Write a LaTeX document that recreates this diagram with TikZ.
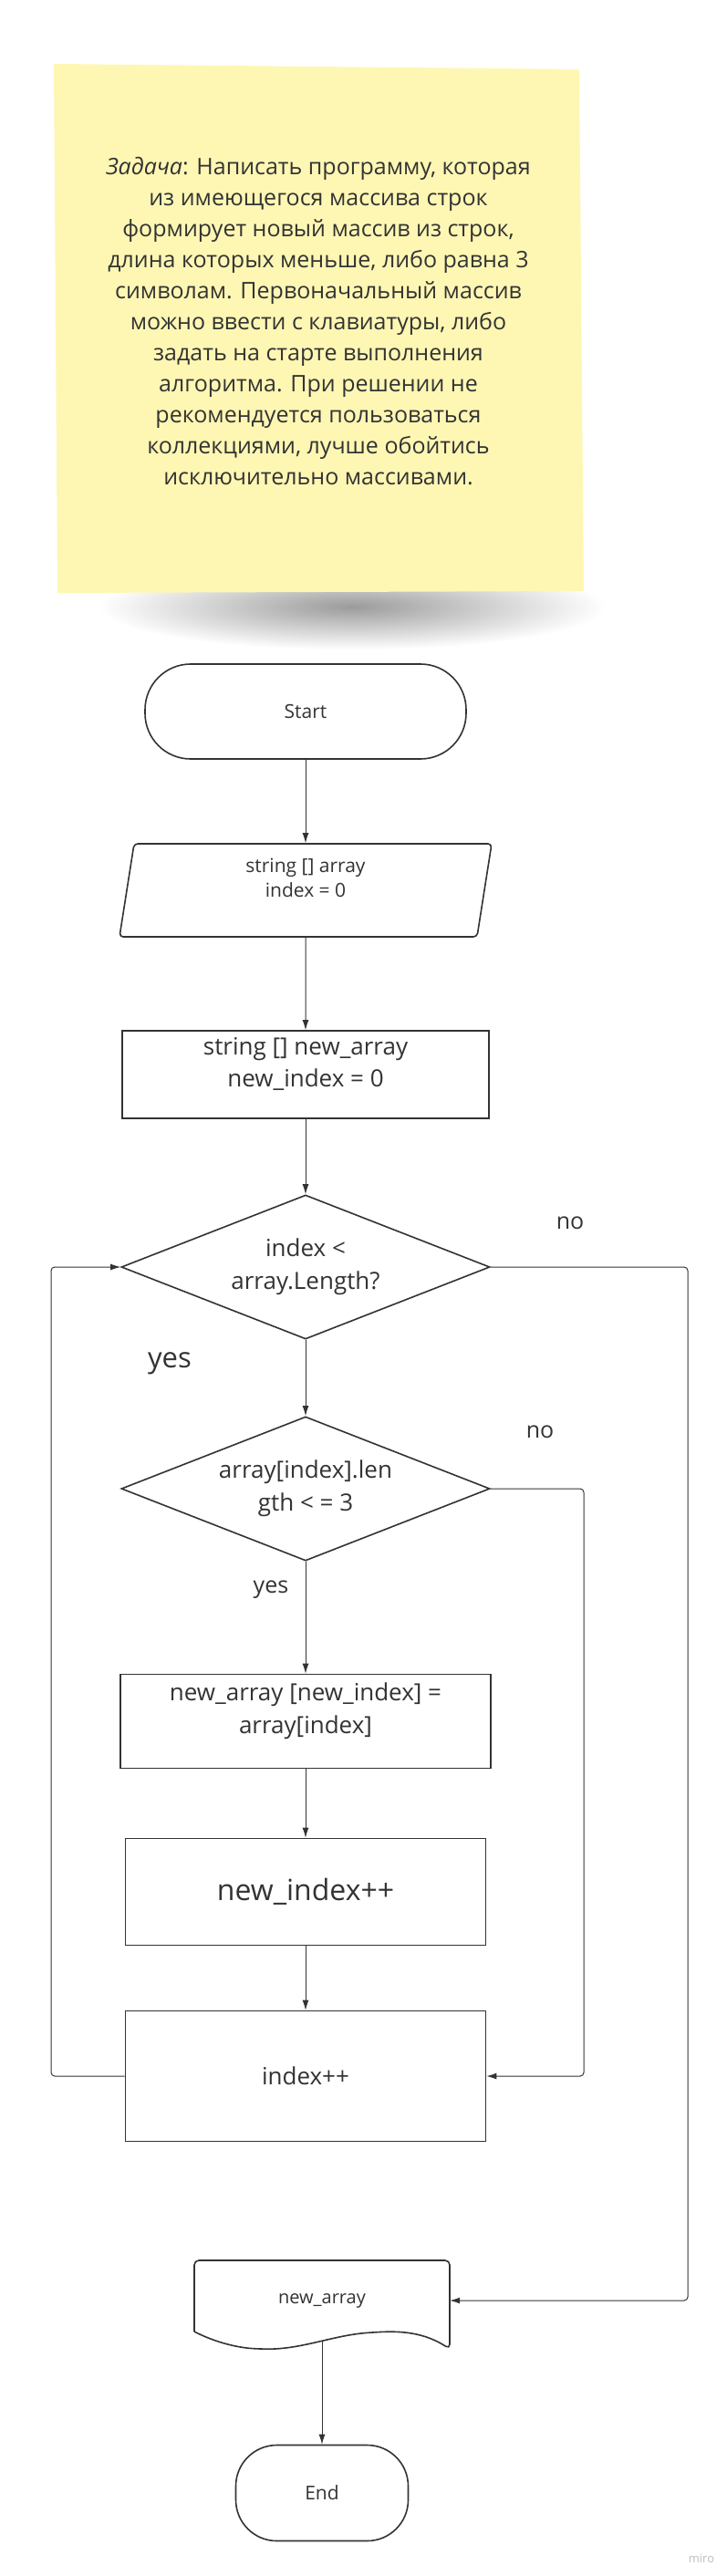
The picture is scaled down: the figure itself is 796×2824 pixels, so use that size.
\documentclass[tikz,border=0pt]{standalone}
\usepackage{fontspec}
\setmainfont{Open Sans}
\usetikzlibrary{shapes.geometric,arrows.meta,fadings}
\newcommand{\fsz}[2]{\fontsize{#1}{#2}\selectfont}
\definecolor{sticky}{HTML}{FEF7B4}
\definecolor{ink}{HTML}{333333}
\tikzfading[name=shfade, inner color=transparent!35, outer color=transparent!100]
\begin{document}
\begin{tikzpicture}[x=1pt,y=-1pt,
  box/.style={draw=ink, line width=1.6pt, text=ink, align=center, inner sep=0pt},
  cond/.style={box, diamond, aspect=2.56, minimum width=404pt, minimum height=158pt, font=\fsz{26}{36}},
  arr/.style={draw=ink, line width=1pt, -{Latex[length=11pt,width=7pt]}},
  lbl/.style={text=ink, inner sep=0pt}]
  \useasboundingbox[fill=white] (0,0) rectangle (796,2824);
  \fill[black!60, path fading=shfade] (110,618) rectangle (662,712);
  \fill[sticky] (59,70) -- (635,76) -- (640,648) -- (63,650) -- cycle;
  \node[lbl, align=center, font=\fsz{25}{34}] (task) at (349,352) {\textit{Задача}: Написать программу, которая\\из имеющегося массива строк\\формирует новый массив из строк,\\длина которых меньше, либо равна 3\\символам. Первоначальный массив\\можно ввести с клавиатуры, либо\\задать на старте выполнения\\алгоритма. При решении не\\рекомендуется пользоваться\\коллекциями, лучше обойтись\\исключительно массивами.};

  \node[box, rounded corners=50pt, minimum width=352pt, minimum height=104pt, font=\fsz{21}{27}] (start) at (335,780) {Start};
  \node[box, trapezium, trapezium left angle=77, trapezium right angle=103, trapezium stretches body, rounded corners=4pt, minimum width=408pt, minimum height=102pt, font=\fsz{21}{27}] (inp) at (335,976) {string [] array\\index = 0\\\mbox{}};
  \node[box, minimum width=402pt, minimum height=96pt, font=\fsz{26}{35}] (init) at (335,1178) {string [] new\_array\\new\_index = 0\\[-8pt]\mbox{}};
  \node[cond] (d1) at (335,1389) {index <\\array.Length?};
  \node[cond] (d2) at (335,1632) {array[index].len\\gth < = 3};
  \node[box, minimum width=406pt, minimum height=103pt, font=\fsz{26}{36}] (copy) at (335,1887) {new\_array [new\_index] =\\array[index]\\[-8pt]\mbox{}};
  \node[box, minimum width=395pt, minimum height=117pt, font=\fsz{32}{40}] (incnew) at (335,2074) {new\_index++};
  \node[box, minimum width=395pt, minimum height=143pt, font=\fsz{26}{34}] (inc) at (335,2276) {index++};
  \draw[box, rounded corners=5pt] (213,2556) -- (213,2478) -- (493,2478) -- (493,2575) .. controls (465,2557) and (440,2555) .. (408,2557) .. controls (365,2560) and (330,2576) .. (286,2575) .. controls (258,2574) and (232,2566) .. (213,2556);
  \node[lbl, minimum width=280pt, minimum height=88pt, font=\fsz{20}{26}] (out) at (353,2522) {new\_array};
  \node[box, rounded corners=45pt, minimum width=189pt, minimum height=105pt, font=\fsz{21}{27}] (stop) at (353,2733) {End};

  \node[lbl, font=\fsz{25}{30}] (no1) at (625,1341) {no};
  \node[lbl, font=\fsz{31}{36}] (yes1) at (186,1495) {yes};
  \node[lbl, font=\fsz{25}{30}] (no2) at (592,1570) {no};
  \node[lbl, font=\fsz{25}{30}] (yes2) at (297,1743) {yes};
  \node[text=black!25, font=\fsz{13}{16}] (wm) at (769,2805) {miro};

  \coordinate (lft) at (56,0);
  \coordinate (mid) at (640,0);
  \coordinate (rgt) at (754,0);
  \draw[arr] (start) -- (inp);
  \draw[arr] (inp) -- (init);
  \draw[arr] (init) -- (d1);
  \draw[arr] (d1) -- (d2);
  \draw[arr] (d2) -- (copy);
  \draw[arr] (copy) -- (incnew);
  \draw[arr] (incnew) -- (inc);
  \draw[arr] (out) -- (stop);
  \draw[arr, rounded corners=4pt] (inc.west) -- (inc.west -| lft) -- (d1.west -| lft) -- (d1.west);
  \draw[arr, rounded corners=4pt] (d2.east) -- (d2.east -| mid) -- (inc.east -| mid) -- (inc.east);
  \draw[arr, rounded corners=4pt] (d1.east) -- (d1.east -| rgt) -- (out.east -| rgt) -- (out.east);
\end{tikzpicture}
\end{document}
